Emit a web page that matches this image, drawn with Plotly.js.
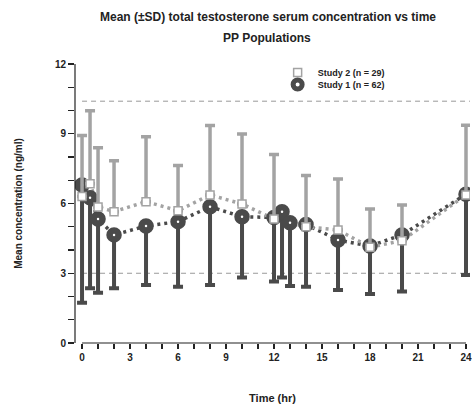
<!DOCTYPE html>
<html>
<head>
<meta charset="utf-8">
<script src="https://cdn.plot.ly/plotly-3.0.1.min.js"></script>
<style>html,body{margin:0;padding:0;background:#fff;}#chart{width:472px;height:410px;}</style>
</head>
<body>
<div id="chart"></div>
<script>
// Study 2 (n = 29): mean and +SD
const study2Time = [0, 0.5, 1, 2, 4, 6, 8, 10, 12, 14, 16, 18, 20, 24];
const study2Mean = [6.3, 6.85, 5.85, 5.65, 6.08, 5.69, 6.37, 5.98, 5.33, 5.0, 4.86, 4.12, 4.4, 6.37];
const study2SD   = [2.62, 3.14, 2.55, 2.19, 2.79, 1.94, 2.99, 3.01, 2.78, 2.2, 2.19, 1.64, 1.54, 3.0];

// Study 1 (n = 62): mean and -SD
const study1Time = [0, 0.5, 1, 2, 4, 6, 8, 10, 12, 12.5, 13, 14, 16, 18, 20, 24];
const study1Mean = [6.8, 6.25, 5.33, 4.65, 5.03, 5.22, 5.86, 5.43, 5.4, 5.65, 5.17, 5.1, 4.43, 4.17, 4.65, 6.4];
const study1SD   = [5.07, 3.9, 3.17, 2.3, 2.54, 2.8, 3.37, 2.61, 2.76, 2.83, 2.72, 2.68, 2.15, 2.06, 2.44, 3.48];

// Reference limits
const refLimits = [3.0, 10.4];

const xTickVals = [0, 3, 6, 9, 12, 15, 18, 21, 24];
const yTickVals = [0, 3, 6, 9, 12];

const dark = '#4a4a4a';
const light = '#a3a3a3';
const FONT = 'Liberation Sans, Arial, sans-serif';

const zeros = a => a.map(() => 0);

const traces = [
  {x: study1Time, y: study1Mean, mode: 'lines', showlegend: false, hoverinfo: 'skip',
   line: {color: dark, width: 3.5, dash: '3px,4px'}},
  {x: study2Time, y: study2Mean, mode: 'lines', showlegend: false, hoverinfo: 'skip',
   line: {color: light, width: 3.5, dash: '3px,4px'}},
  {x: study1Time, y: study1Mean, mode: 'markers', name: 'Study 1 (n = 62)', legend: 'legend2',
   marker: {symbol: 'circle', size: 9, color: '#ffffff', line: {color: dark, width: 6.5}},
   error_y: {type: 'data', symmetric: false, array: zeros(study1SD), arrayminus: study1SD,
             color: dark, thickness: 4, width: 5}},
  {x: study2Time, y: study2Mean, mode: 'markers', name: 'Study 2 (n = 29)', legend: 'legend',
   marker: {symbol: 'square', size: 8, color: '#ffffff', line: {color: light, width: 1.5}},
   error_y: {type: 'data', symmetric: false, array: study2SD, arrayminus: zeros(study2SD),
             color: light, thickness: 3.5, width: 5}}
];

const shapes = [
  // axis lines (offset Prism-style)
  {type: 'line', xref: 'x', yref: 'paper', x0: 0, x1: 24, y0: 0, y1: 0, line: {color: '#222', width: 1.2}},
  {type: 'line', xref: 'paper', yref: 'y', x0: 0, x1: 0, y0: 0, y1: 12, line: {color: '#222', width: 1.2}}
].concat(refLimits.map(v => ({type: 'line', xref: 'x', yref: 'y', x0: 0, x1: 24.25, y0: v, y1: v,
   line: {color: '#999', width: 1, dash: '5px,4px'}, layer: 'below'})));

const legendFont = {family: FONT, size: 9, weight: 'bold', color: '#222'};

const layout = {
  width: 472, height: 410,
  margin: {l: 75, r: 2, t: 64, b: 67},
  paper_bgcolor: '#fff', plot_bgcolor: '#fff',
  font: {family: FONT, color: '#222', size: 10},
  title: {text: 'Mean (±SD) total testosterone serum concentration vs time',
          font: {family: FONT, size: 12, weight: 'bold', color: '#222'},
          xref: 'container', yref: 'container', x: 268/472, xanchor: 'center', y: 1 - 17/410, yanchor: 'middle'},
  annotations: [{text: 'PP Populations', xref: 'paper', yref: 'paper', x: 0.486, y: 1.093,
                 xanchor: 'center', yanchor: 'middle', showarrow: false,
                 font: {family: FONT, size: 12, weight: 'bold', color: '#222'}}],
  showlegend: true,
  legend: {x: 0.513, y: 1.0215, xanchor: 'left', yanchor: 'top', bgcolor: 'rgba(0,0,0,0)',
           font: legendFont, itemwidth: 30},
  legend2: {x: 0.513, y: 0.9785, xanchor: 'left', yanchor: 'top', bgcolor: 'rgba(0,0,0,0)',
           font: legendFont, itemwidth: 30},
  xaxis: {range: [-0.44, 24.25], showgrid: false, zeroline: false, showline: false,
          tickmode: 'array', tickvals: xTickVals, ticks: 'outside', ticklen: 5, tickwidth: 1.2, tickcolor: '#222',
          minor: {dtick: 1, tick0: 0, ticks: 'outside', ticklen: 5, tickwidth: 1.2, tickcolor: '#222', showgrid: false},
          tickfont: {family: FONT, size: 10, weight: 'bold', color: '#222'},
          title: {text: 'Time (hr)', font: {family: FONT, size: 11, weight: 'bold', color: '#222'}, standoff: 32}},
  yaxis: {range: [0, 12], showgrid: false, zeroline: false, showline: false,
          tickmode: 'array', tickvals: yTickVals, ticks: 'outside', ticklen: 6, tickwidth: 1.2, tickcolor: '#222',
          minor: {dtick: 1, tick0: 0, ticks: 'outside', ticklen: 6, tickwidth: 1.2, tickcolor: '#222', showgrid: false},
          tickfont: {family: FONT, size: 10, weight: 'bold', color: '#222'},
          title: {text: 'Mean concentration (ng/ml)', font: {family: FONT, size: 10, weight: 'bold', color: '#222'}, standoff: 30}},
  shapes: shapes
};

Plotly.newPlot('chart', traces, layout, {displayModeBar: false, staticPlot: true});
</script>
</body>
</html>
